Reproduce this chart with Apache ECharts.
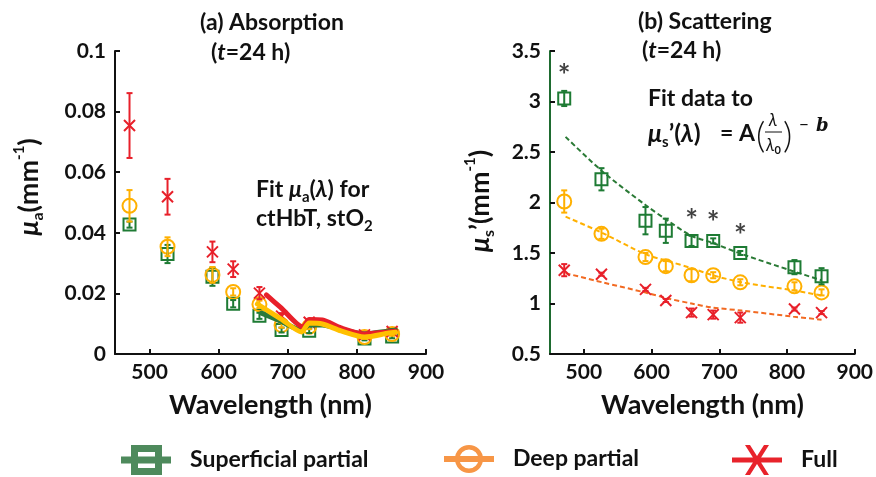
<!DOCTYPE html>
<html>
<head>
<meta charset="utf-8">
<script src="https://cdn.jsdelivr.net/npm/echarts@6/dist/echarts.min.js"></script>
<style>
html, body { margin: 0; padding: 0; background: #fff; }
#chart { width: 876px; height: 477px; }
</style>
</head>
<body>
<div id="chart"></div>
<script>
// wavelengths of the measurement points (nm)
const wavelengths = [471, 526, 591, 621, 659, 691, 731, 811, 851];

// (a) absorption, mu_a (mm^-1)
const absSuperficial = [0.0427, 0.0330, 0.0255, 0.0166, 0.0126, 0.0079, 0.0077, 0.0051, 0.0058];
const absSuperficialErr = [0.0010, 0.0030, 0.0030, 0.0012, 0.0010, 0.0008, 0.0008, 0.0006, 0.0006];
const absDeep = [0.0489, 0.0354, 0.0261, 0.0205, 0.0164, 0.0095, 0.0090, 0.0056, 0.0066];
const absDeepErr = [0.0052, 0.0031, 0.0026, 0.0012, 0.0012, 0.0008, 0.0008, 0.0006, 0.0006];
const absFull = [0.0754, 0.0519, 0.0337, 0.0280, 0.0201, 0.0125, 0.0105, 0.0063, 0.0074];
const absFullErr = [0.0107, 0.0059, 0.0034, 0.0026, 0.0020, 0.0010, 0.0010, 0.0006, 0.0008];

// (a) fitted curves
const fitAbsSuperficialWl = [662, 690, 720, 731, 750, 777, 811, 846, 856];
const fitAbsSuperficial = [0.0135, 0.0108, 0.0079, 0.0096, 0.0096, 0.0082, 0.0066, 0.0076, 0.0078];
const fitAbsDeepWl = [656, 690, 720, 731, 750, 777, 811, 846, 856];
const fitAbsDeep = [0.0165, 0.0116, 0.0073, 0.0102, 0.0099, 0.0076, 0.0056, 0.0069, 0.0072];
const fitAbsFullWl = [669, 690, 722, 731, 750, 777, 811, 846, 856];
const fitAbsFull = [0.0195, 0.0153, 0.0089, 0.0114, 0.0112, 0.0086, 0.0066, 0.0073, 0.0075];

// (b) reduced scattering, mu_s' (mm^-1)
const scatSuperficial = [3.03, 2.23, 1.82, 1.72, 1.62, 1.62, 1.50, 1.36, 1.27];
const scatSuperficialErr = [0.075, 0.11, 0.135, 0.12, 0.05, 0.025, 0.02, 0.07, 0.08];
const scatDeep = [2.01, 1.69, 1.46, 1.37, 1.28, 1.28, 1.21, 1.17, 1.11];
const scatDeepErr = [0.11, 0.05, 0.04, 0.05, 0.06, 0.03, 0.03, 0.04, 0.03];
const scatFull = [1.33, 1.29, 1.14, 1.03, 0.91, 0.89, 0.86, 0.945, 0.91];
const scatFullErr = [0.06, 0.015, 0.015, 0.015, 0.04, 0.04, 0.05, 0.015, 0.015];

// (b) power-law fits
const fitScatWl = [473, 527, 590, 624, 659, 690, 733, 809, 851];
const fitScatSuperficial = [2.65, 2.31, 1.98, 1.82, 1.67, 1.60, 1.49, 1.32, 1.23];
const fitScatDeep = [1.86, 1.70, 1.49, 1.42, 1.35, 1.28, 1.21, 1.13, 1.08];
const fitScatFull = [1.30, 1.21, 1.11, 1.05, 1.00, 0.96, 0.93, 0.87, 0.84];

// points marked significant (*), indices into wavelengths
const sigIdx = [0, 4, 5, 6];

const xTicks = [500, 600, 700, 800, 900];

const F = 'Lato, "Open Sans", sans-serif';
const INK = '#111';
const green = '#1E7B34', orange = '#FFB000', red = '#E8202A';

function pairs(xs, ys) {
    return xs.map((x, i) => [x, ys[i]]);
}

function markers(name, idx, vals, symbol, size, color) {
    return {
        name, type: 'scatter', xAxisIndex: idx, yAxisIndex: idx, silent: true,
        symbol, symbolSize: size, z: 3,
        itemStyle: { color: 'none', borderColor: color, borderWidth: 2, opacity: 1 },
        data: pairs(wavelengths, vals)
    };
}

function errorBars(name, idx, vals, errs, color) {
    return {
        name, type: 'custom', xAxisIndex: idx, yAxisIndex: idx, silent: true, z: 4,
        data: wavelengths.map((w, i) => [w, vals[i] - errs[i], vals[i] + errs[i]]),
        encode: { x: 0, y: [1, 2] },
        renderItem: (params, api) => {
            const top = api.coord([api.value(0), api.value(2)]);
            const bot = api.coord([api.value(0), api.value(1)]);
            const style = { stroke: color, lineWidth: 2, fill: null };
            return {
                type: 'group',
                children: [
                    { type: 'line', shape: { x1: top[0], y1: top[1], x2: bot[0], y2: bot[1] }, style },
                    { type: 'line', shape: { x1: top[0] - 3, y1: top[1], x2: top[0] + 3, y2: top[1] }, style },
                    { type: 'line', shape: { x1: bot[0] - 3, y1: bot[1], x2: bot[0] + 3, y2: bot[1] }, style }
                ]
            };
        }
    };
}

function fitLine(name, idx, xs, ys, color, width, dashed, z) {
    return {
        name, type: 'line', xAxisIndex: idx, yAxisIndex: idx, silent: true,
        symbol: 'none', smooth: dashed ? 0.3 : 0.25, z,
        lineStyle: { color, width, type: dashed ? [5, 3] : 'solid', cap: dashed ? 'butt' : 'round' },
        data: pairs(xs, ys)
    };
}

const crossPath = 'path://M0,0L10,10M10,0L0,10';

function tk(size, extra) {
    return Object.assign({ fontSize: size, fontWeight: 'bold', fontFamily: F, fill: INK }, extra || {});
}

function xAxis(idx) {
    return {
        type: 'value', gridIndex: idx, min: 450, max: 900,
        name: 'Wavelength (nm)', nameLocation: 'middle', nameGap: 38,
        nameTextStyle: { fontSize: 27, fontWeight: 'bold', fontFamily: F, color: INK },
        axisLine: { lineStyle: { color: INK, width: 2 } },
        axisTick: { inside: true, length: 5, lineStyle: { width: 2, color: INK }, customValues: xTicks },
        axisLabel: { fontSize: 21, fontWeight: 'bold', fontFamily: F, color: INK, margin: 8, customValues: xTicks },
        splitLine: { show: false }
    };
}

function yAxis(idx, min, max, step, lineColor) {
    return {
        type: 'value', gridIndex: idx, min, max, interval: step,
        axisLine: { show: true, lineStyle: { color: lineColor, width: 2 } },
        axisTick: { show: true, inside: true, length: 5, lineStyle: { width: 2, color: INK } },
        axisLabel: { fontSize: 21, fontWeight: 'bold', fontFamily: F, color: INK, margin: 9 },
        splitLine: { show: false }
    };
}

const iconSuperficial = 'path://M0,11.5H50V18.5H0Z M10,0H41V7H10Z M10,23H41V30H10Z M10,0H17V30H10Z M34,0H41V30H34Z';
const iconDeep = 'path://M0,12H50V18H0Z M11,15A14,14 0 1,1 39,15A14,14 0 1,1 11,15Z M15.5,15A9.5,9.5 0 1,0 34.5,15A9.5,9.5 0 1,0 15.5,15Z';
const iconFull = 'path://M0,12.5H50V17.5H0Z M13,0H18L37,30H32Z M32,0H37L18,30H13Z';

function legend(name, left, icon, color) {
    return {
        left, top: 445, padding: 0, selectedMode: false,
        itemWidth: 50, itemHeight: 30,
        textStyle: { fontSize: 23, fontWeight: 'bold', fontFamily: F, color: INK, padding: [0, 0, 0, 14] },
        data: [{ name, icon, itemStyle: { color, borderWidth: 0 } }]
    };
}

const S = 'Superficial partial', D = 'Deep partial', U = 'Full';

const titleRich = { n: tk(23), i: tk(23, { fontStyle: 'italic' }) };

const option = {
    animation: false,
    backgroundColor: '#fff',
    grid: [
        { left: 115, top: 51, width: 311, height: 303 },
        { left: 550, top: 51, width: 305, height: 303 }
    ],
    xAxis: [xAxis(0), xAxis(1)],
    yAxis: [yAxis(0, 0, 0.1, 0.02, INK), yAxis(1, 0.5, 3.5, 0.5, '#1E6B30')],
    legend: [
        legend(S, 121, iconSuperficial, '#4E8A5C'),
        legend(D, 444, iconDeep, '#F79646'),
        legend(U, 732, iconFull, '#E8232B')
    ],
    series: [
        // (a) absorption
        markers(S, 0, absSuperficial, 'rect', 12, green),
        markers(D, 0, absDeep, 'circle', 14, orange),
        markers(U, 0, absFull, crossPath, 11, red),
        errorBars(S, 0, absSuperficial, absSuperficialErr, green),
        errorBars(D, 0, absDeep, absDeepErr, orange),
        errorBars(U, 0, absFull, absFullErr, red),
        fitLine(S, 0, fitAbsSuperficialWl, fitAbsSuperficial, '#2B7A3B', 5, false, 5),
        fitLine(U, 0, fitAbsFullWl, fitAbsFull, red, 5, false, 6),
        fitLine(D, 0, fitAbsDeepWl, fitAbsDeep, '#FFC000', 5, false, 7),
        // (b) scattering
        markers(S, 1, scatSuperficial, 'rect', 12, green),
        markers(D, 1, scatDeep, 'circle', 14, orange),
        markers(U, 1, scatFull, crossPath, 11, red),
        errorBars(S, 1, scatSuperficial, scatSuperficialErr, green),
        errorBars(D, 1, scatDeep, scatDeepErr, orange),
        errorBars(U, 1, scatFull, scatFullErr, red),
        fitLine(S, 1, fitScatWl, fitScatSuperficial, '#2A7A35', 2, true, 2),
        fitLine(D, 1, fitScatWl, fitScatDeep, orange, 2, true, 2),
        fitLine(U, 1, fitScatWl, fitScatFull, '#F26A22', 2, true, 2),
        {
            name: S, type: 'scatter', xAxisIndex: 1, yAxisIndex: 1, silent: true,
            symbol: 'circle', symbolSize: 0, z: 6,
            itemStyle: { color: 'transparent' },
            label: {
                show: true, position: 'top', distance: 0, formatter: '*',
                fontSize: 30, fontWeight: 'bold', fontFamily: F, color: INK
            },
            data: sigIdx.map(i => [wavelengths[i], scatSuperficial[i] + scatSuperficialErr[i]])
        }
    ],
    graphic: [
        { type: 'text', x: 200, y: 23, style: { text: '(a) Absorption', font: 'bold 23px ' + F, fill: INK, verticalAlign: 'middle' } },
        { type: 'text', x: 211, y: 53, style: { text: '{n|(}{i|t}{n|=24 h)}', fill: INK, verticalAlign: 'middle', rich: titleRich } },
        { type: 'text', x: 638, y: 22, style: { text: '(b) Scattering', font: 'bold 23px ' + F, fill: INK, verticalAlign: 'middle' } },
        { type: 'text', x: 642, y: 51, style: { text: '{n|(}{i|t}{n|=24 h)}', fill: INK, verticalAlign: 'middle', rich: titleRich } },
        // left annotation
        {
            type: 'text', x: 256, y: 190,
            style: {
                text: '{n|Fit }{mu|μ}{sub|a}{n|(}{i|λ}{n|) for}', fill: INK, verticalAlign: 'middle',
                rich: {
                    n: tk(23, { lineHeight: 30 }), i: tk(23, { fontStyle: 'italic', lineHeight: 30 }),
                    mu: tk(23, { fontStyle: 'italic', lineHeight: 30 }),
                    sub: tk(15, { verticalAlign: 'bottom', lineHeight: 30 })
                }
            }
        },
        {
            type: 'text', x: 256, y: 219,
            style: {
                text: '{n|ctHbT, stO}{sub|2}', fill: INK, verticalAlign: 'middle',
                rich: { n: tk(23, { lineHeight: 30 }), sub: tk(15, { verticalAlign: 'bottom', lineHeight: 30 }) }
            }
        },
        // right annotation
        { type: 'text', x: 648, y: 99, style: { text: 'Fit data to', font: 'bold 23px ' + F, fill: INK, verticalAlign: 'middle' } },
        {
            type: 'text', x: 648, y: 134,
            style: {
                text: '{mu|μ}{sub|s}{n|’(}{i|λ}{n|)}', fill: INK, verticalAlign: 'middle',
                rich: {
                    n: tk(25, { lineHeight: 32 }), i: tk(25, { fontStyle: 'italic', lineHeight: 32 }),
                    mu: tk(25, { fontStyle: 'italic', lineHeight: 32 }),
                    sub: tk(15, { verticalAlign: 'bottom', lineHeight: 32 })
                }
            }
        },
        { type: 'text', x: 720, y: 134, style: { text: '= A', font: 'bold 23px ' + F, fill: INK, verticalAlign: 'middle' } },
        { type: 'text', x: 756, y: 136, style: { text: '(', font: '300 36px ' + F, fill: INK, verticalAlign: 'middle' } },
        { type: 'text', x: 773, y: 121, style: { text: 'λ', font: 'italic 17px ' + F, fill: INK, align: 'center', verticalAlign: 'middle' } },
        { type: 'line', shape: { x1: 765, y1: 132, x2: 782, y2: 132 }, style: { stroke: INK, lineWidth: 1 } },
        {
            type: 'text', x: 766, y: 146,
            style: {
                text: '{i|λ}{sub|0}', fill: INK, verticalAlign: 'middle',
                rich: { i: tk(17, { fontStyle: 'italic', fontWeight: 'normal', lineHeight: 20 }), sub: tk(11, { verticalAlign: 'bottom', lineHeight: 20 }) }
            }
        },
        { type: 'text', x: 783, y: 136, style: { text: ')', font: '300 36px ' + F, fill: INK, verticalAlign: 'middle' } },
        { type: 'text', x: 799, y: 125, style: { text: '−', font: '17px ' + F, fill: INK, verticalAlign: 'middle' } },
        { type: 'text', x: 816, y: 126, style: { text: 'b', font: 'italic bold 18px "DejaVu Serif", serif', fill: INK, verticalAlign: 'middle' } },
        // y axis names
        {
            type: 'text', x: 29, y: 187, rotation: Math.PI / 2,
            style: {
                text: '{mu|μ}{sub|a}{n|(mm}{sup|-1}{n|)}', fill: INK, align: 'center', verticalAlign: 'middle',
                rich: {
                    mu: tk(27, { fontStyle: 'italic', lineHeight: 34 }), n: tk(27, { lineHeight: 34 }),
                    sub: tk(16, { verticalAlign: 'bottom', lineHeight: 34 }),
                    sup: tk(15, { verticalAlign: 'top', lineHeight: 34 })
                }
            }
        },
        {
            type: 'text', x: 480, y: 201, rotation: Math.PI / 2,
            style: {
                text: '{mu|μ}{sub|s}{n|’(mm}{sup|-1}{n|)}', fill: INK, align: 'center', verticalAlign: 'middle',
                rich: {
                    mu: tk(27, { fontStyle: 'italic', lineHeight: 34 }), n: tk(27, { lineHeight: 34 }),
                    sub: tk(16, { verticalAlign: 'bottom', lineHeight: 34 }),
                    sup: tk(15, { verticalAlign: 'top', lineHeight: 34 })
                }
            }
        }
    ]
};

const chart = echarts.init(document.getElementById('chart'), null, { renderer: 'canvas' });
chart.setOption(option);
</script>
</body>
</html>
